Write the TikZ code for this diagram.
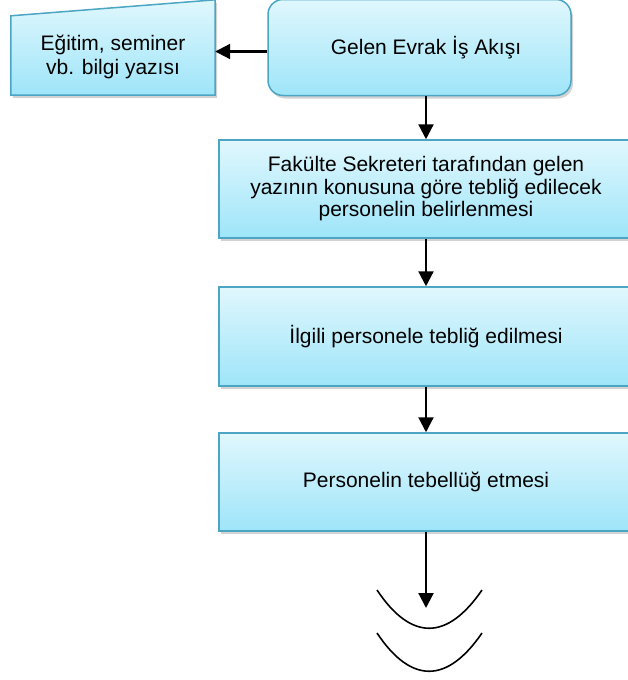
\documentclass[tikz,border=0pt]{standalone}
\usepackage{fontspec}
\setmainfont{Liberation Sans}
\usetikzlibrary{arrows.meta,shadows,backgrounds}

\definecolor{boxtop}{RGB}{224,247,253}
\definecolor{boxbot}{RGB}{158,229,249}
\definecolor{boxline}{RGB}{75,165,195}

\begin{document}
\begin{tikzpicture}[x=1pt,y=-1pt,
    boxfill/.style={draw=boxline, line width=1.5pt, top color=boxtop, bottom color=boxbot,
        drop shadow={shadow xshift=2pt, shadow yshift=-3pt, opacity=.35}},
    box/.style={boxfill, align=center, inner sep=0pt, font=\fontsize{21}{22.5}\selectfont},
    arrow/.style={line width=2.2pt, -{Triangle[width=15pt,length=15pt]}},
    arc/.style={line width=1.6pt}]

\useasboundingbox (0,0) rectangle (627,680);

\node[box, rounded corners=15pt, minimum width=303pt, minimum height=96pt] (gelen) at (419.5,47.5)
    {\hspace*{13pt}Gelen Evrak İş Akışı};

\node[align=center, inner sep=0pt, minimum width=204pt, minimum height=79pt,
    font=\fontsize{21}{24}\selectfont] (egitim) at (113,57) {Eğitim, seminer\\vb. bilgi yazısı};
\begin{scope}[on background layer]
    \draw[boxfill] ([yshift=1.5pt]egitim.south west) -- ([yshift=1.5pt]egitim.south east)
        -- ([yshift=17.5pt]egitim.north east) -- ([yshift=1.5pt]egitim.north west) -- cycle;
\end{scope}

\node[box, minimum width=414pt, minimum height=98pt] (sekreter) at (426,189)
    {Fakülte Sekreteri tarafından gelen\\yazının konusuna göre tebliğ edilecek\\personelin belirlenmesi};
\node[box, minimum width=414pt, minimum height=99pt] (teblig) at (426,336.5)
    {İlgili personele tebliğ edilmesi};
\node[box, minimum width=414pt, minimum height=98pt] (tebellug) at (426,482)
    {Personelin tebellüğ etmesi};

\coordinate (son) at (426,608);

\draw[arrow] ([yshift=-4pt]gelen.west) -- ([yshift=-4pt]gelen.west -| egitim.east);
\draw[arrow] (gelen.south -| sekreter.north) -- (sekreter.north);
\draw[arrow] (sekreter) -- (teblig.north);
\draw[arrow] (teblig) -- (tebellug.north);
\draw[arrow] (tebellug.south) -- (son);

% devam isareti
\foreach \y in {590,633}{
    \draw[arc] (377,\y) .. controls (411,\y+51) and (447,\y+51) .. (482,\y);
}

\end{tikzpicture}
\end{document}
